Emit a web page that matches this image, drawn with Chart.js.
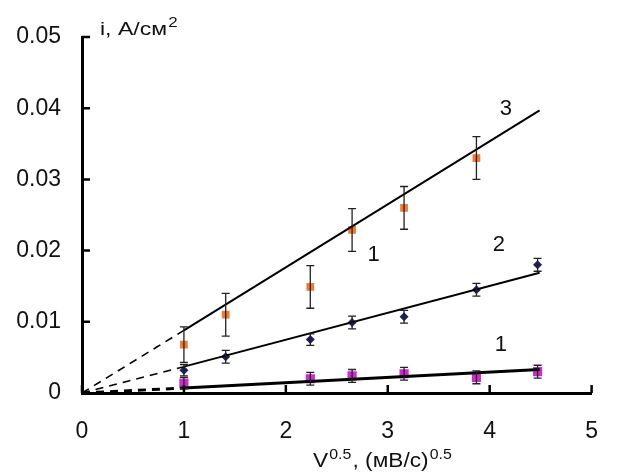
<!DOCTYPE html>
<html>
<head>
<meta charset="utf-8">
<script src="https://cdn.jsdelivr.net/npm/chart.js@4.4.0/dist/chart.umd.min.js"></script>
<style>
  body { margin: 0; background: #fff; }
  #wrap { width: 623px; height: 472px; }
</style>
</head>
<body>
<div id="wrap"><canvas id="myChart" width="623" height="472"></canvas></div>
<script>
// measured points, v^0.5 on x, current density on y
const x3 = [1, 1.41, 2.24, 2.65, 3.16, 3.87];
const y3 = [0.0068, 0.011, 0.0149, 0.0229, 0.026, 0.033];
const err3 = [0.0025, 0.003, 0.003, 0.003, 0.003, 0.003];

const x2 = [1, 1.41, 2.24, 2.65, 3.16, 3.87, 4.47];
const y2 = [0.0032, 0.0051, 0.0075, 0.0099, 0.0107, 0.0145, 0.018];
const err2 = [0.0008, 0.0009, 0.0008, 0.0009, 0.0009, 0.0009, 0.0009];

const x1 = [1, 2.24, 2.65, 3.16, 3.87, 4.47];
const y1 = [0.0014, 0.002, 0.0024, 0.0027, 0.0022, 0.003];
const err1 = [0.0008, 0.0009, 0.0009, 0.0009, 0.0009, 0.0009];

// linear fits: dashed part 0..1, solid part 1..end
const fitX = [0, 1, 4.49];
const fit3 = [0, 0.0088, 0.0397];
const fit2 = [0, 0.0037, 0.0169];
const fit1 = [0, 0.0007, 0.0033];

const curveNames = ['3', '2', '1', '1'];
const curveNameX = [4.16, 4.09, 2.86, 4.11];
const curveNameY = [0.0399, 0.0208, 0.0194, 0.0068];

const xTicks = [0, 1, 2, 3, 4, 5];
const yTicks = [0, 0.01, 0.02, 0.03, 0.04, 0.05];

const FONT = '"Liberation Sans", Arial, sans-serif';

function pts(xs, ys) {
  return xs.map((x, i) => ({ x: x, y: ys[i] }));
}

function fitPart(ys, solid) {
  return solid
    ? [{ x: fitX[1], y: ys[1] }, { x: fitX[2], y: ys[2] }]
    : [{ x: fitX[0], y: ys[0] }, { x: fitX[1], y: ys[1] }];
}

const errorSets = [
  { xs: x3, ys: y3, err: err3 },
  { xs: x2, ys: y2, err: err2 },
  { xs: x1, ys: y1, err: err1 }
];

// draws text pieces [text, isSuperscript], stretched to a given width
function drawTitle(ctx, parts, left, base, size, supSize, width) {
  let w = 0;
  parts.forEach(p => {
    ctx.font = (p[1] ? supSize : size) + 'px ' + FONT;
    w += ctx.measureText(p[0]).width + 1;
  });
  const sx = width / w;
  ctx.save();
  ctx.translate(left, base);
  ctx.scale(sx, 1);
  let x = 0;
  parts.forEach(p => {
    ctx.font = (p[1] ? supSize : size) + 'px ' + FONT;
    ctx.fillText(p[0], x, p[1] ? -Math.round(size * 0.42) : 0);
    x += ctx.measureText(p[0]).width + 1;
  });
  ctx.restore();
}

const extras = {
  id: 'extras',
  afterDatasetsDraw(chart) {
    const ctx = chart.ctx;
    const xs = chart.scales.x;
    const ys = chart.scales.y;
    ctx.save();
    ctx.strokeStyle = '#222';
    ctx.lineWidth = 1.3;
    errorSets.forEach(s => {
      s.xs.forEach((xv, i) => {
        const px = xs.getPixelForValue(xv);
        const top = ys.getPixelForValue(s.ys[i] + s.err[i]);
        const bot = ys.getPixelForValue(s.ys[i] - s.err[i]);
        ctx.beginPath();
        ctx.moveTo(px, top); ctx.lineTo(px, bot);
        ctx.moveTo(px - 4, top); ctx.lineTo(px + 4, top);
        ctx.moveTo(px - 4, bot); ctx.lineTo(px + 4, bot);
        ctx.stroke();
      });
    });
    ctx.restore();
  },
  afterDraw(chart) {
    const ctx = chart.ctx;
    const xs = chart.scales.x;
    const ys = chart.scales.y;
    const area = chart.chartArea;
    ctx.save();
    // inward tick marks
    ctx.strokeStyle = '#000';
    ctx.lineWidth = 2.5;
    ctx.beginPath();
    yTicks.forEach(v => {
      const py = ys.getPixelForValue(v);
      ctx.moveTo(area.left, py); ctx.lineTo(area.left + 8, py);
    });
    xTicks.forEach(v => {
      const px = xs.getPixelForValue(v);
      ctx.moveTo(px, area.bottom); ctx.lineTo(px, area.bottom - 8);
    });
    ctx.stroke();

    // curve numbers
    ctx.fillStyle = '#111';
    ctx.font = '22px ' + FONT;
    ctx.textAlign = 'center';
    ctx.textBaseline = 'middle';
    curveNames.forEach((t, i) => {
      ctx.fillText(t, xs.getPixelForValue(curveNameX[i]), ys.getPixelForValue(curveNameY[i]));
    });

    // axis titles
    ctx.textAlign = 'left';
    ctx.textBaseline = 'alphabetic';
    drawTitle(ctx, [['i, A/см', false], ['2', true]], 100, 35, 19, 14, 79);
    drawTitle(ctx, [['V', false], ['0.5', true], [', (мВ/с)', false], ['0.5', true]], 313, 467, 20, 14, 140);
    ctx.restore();
  }
};

const lineStyle = (data, dashed, width) => ({
  data: data,
  showLine: true,
  borderColor: '#000',
  borderWidth: width,
  borderDash: dashed ? [8, 6] : [],
  pointRadius: 0,
  fill: false
});

new Chart(document.getElementById('myChart'), {
  type: 'scatter',
  data: {
    datasets: [
      lineStyle(fitPart(fit3, false), true, 1.6),
      lineStyle(fitPart(fit3, true), false, 2),
      lineStyle(fitPart(fit2, false), true, 1.6),
      lineStyle(fitPart(fit2, true), false, 2),
      lineStyle(fitPart(fit1, false), true, 3),
      lineStyle(fitPart(fit1, true), false, 3),
      {
        label: '3', data: pts(x3, y3), pointStyle: 'rect', pointRadius: 5.5,
        backgroundColor: '#ec7b35', borderColor: '#ec7b35', borderWidth: 0
      },
      {
        label: '2', data: pts(x2, y2), pointStyle: 'rectRot', pointRadius: 4.5,
        backgroundColor: '#1c2060', borderColor: '#1c2060', borderWidth: 0
      },
      {
        label: '1', data: pts(x1, y1), pointStyle: 'rect', pointRadius: 6.5,
        backgroundColor: '#cc2ccc', borderColor: '#cc2ccc', borderWidth: 0
      }
    ]
  },
  options: {
    responsive: false,
    animation: false,
    events: [],
    layout: { padding: { top: 37, right: 8, left: 0, bottom: 0 } },
    plugins: { legend: { display: false }, tooltip: { enabled: false } },
    scales: {
      x: {
        type: 'linear', min: 0, max: 5,
        afterFit: s => { s.height = 79; },
        afterBuildTicks: s => { s.ticks = xTicks.map(v => ({ value: v })); },
        grid: { display: false, drawTicks: false },
        border: { display: true, color: '#000', width: 3 },
        ticks: {
          padding: 25, color: '#111',
          font: { family: FONT, size: 23 }
        }
      },
      y: {
        type: 'linear', min: 0, max: 0.05,
        afterFit: s => { s.width = 82; },
        afterBuildTicks: s => { s.ticks = yTicks.map(v => ({ value: v })); },
        grid: { display: false, drawTicks: false },
        border: { display: true, color: '#000', width: 3 },
        ticks: {
          padding: 21, color: '#111',
          font: { family: FONT, size: 23 },
          callback: v => v === 0 ? '0' : v.toFixed(2)
        }
      }
    }
  },
  plugins: [extras]
});
</script>
</body>
</html>
